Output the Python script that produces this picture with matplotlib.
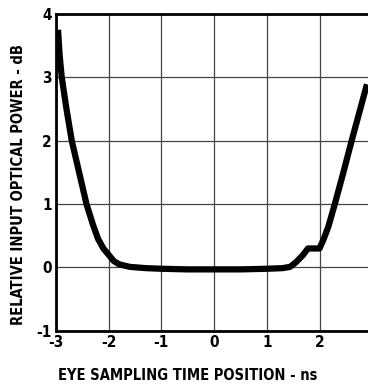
import matplotlib
matplotlib.use("Agg")
import matplotlib.pyplot as plt
from matplotlib.font_manager import FontProperties

# curve
t_ns = [-2.96, -2.93, -2.89, -2.8, -2.7, -2.56, -2.42, -2.3, -2.2, -2.1, -2.0,
        -1.9, -1.8, -1.6, -1.3, -1.0, -0.5, 0.0, 0.5, 1.0, 1.3, 1.44, 1.55,
        1.69, 1.78, 2.0, 2.08, 2.17, 2.29, 2.45, 2.61, 2.76, 2.9]
power_db = [3.75, 3.35, 3.0, 2.5, 2.0, 1.5, 1.0, 0.68, 0.45, 0.3, 0.2,
            0.1, 0.05, 0.01, -0.01, -0.02, -0.03, -0.03, -0.03, -0.02, -0.01, 0.01, 0.08,
            0.2, 0.3, 0.3, 0.45, 0.65, 1.0, 1.49, 2.0, 2.46, 2.89]

x_ticks = [-3, -2, -1, 0, 1, 2]
y_ticks = [-1, 0, 1, 2, 3, 4]

plt.rcParams['axes.unicode_minus'] = False

def cond(size):
    return FontProperties(family="DejaVu Sans", stretch="condensed",
                          weight="bold", style="normal", size=size)

fig = plt.figure(figsize=(3.68, 3.87), dpi=100)
ax = fig.add_axes([0.152, 0.145, 0.848, 0.819])

ax.plot(t_ns, power_db, color="black", lw=4.5, solid_capstyle="butt",
        solid_joinstyle="round", zorder=3)

ax.set_xlim(-3, 2.92)
ax.set_ylim(-1, 4)
ax.set_xticks(x_ticks)
ax.set_yticks(y_ticks)
ax.grid(True, color="#444444", lw=0.9)
ax.tick_params(length=0, pad=3)
for lab in ax.get_xticklabels() + ax.get_yticklabels():
    lab.set_fontproperties(cond(11))

for s in ["left", "top", "bottom"]:
    ax.spines[s].set_linewidth(2)
ax.spines["right"].set_visible(False)

fig.text(188 / 368, 1 - 376 / 387, "EYE SAMPLING TIME POSITION - ns",
         fontproperties=cond(10.5), ha="center", va="center")
fig.text(19 / 368, 1 - 185 / 387, "RELATIVE INPUT OPTICAL POWER - dB",
         fontproperties=cond(10.5), ha="center", va="center", rotation=90)

fig.savefig("out.png", dpi=100)
